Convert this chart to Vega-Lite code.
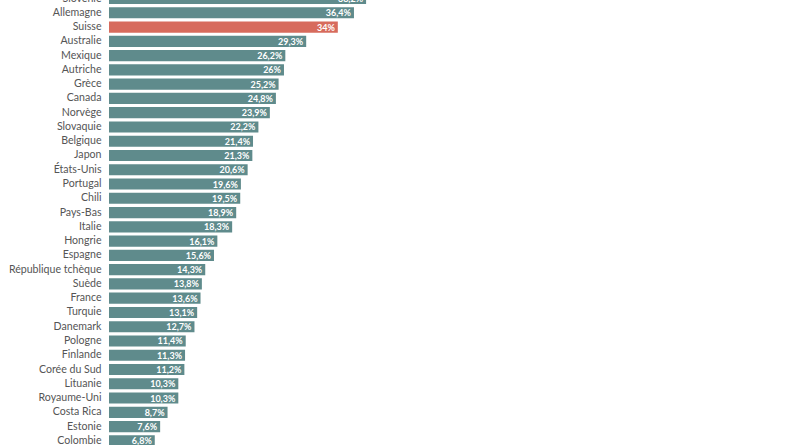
{
  "$schema": "https://vega.github.io/schema/vega-lite/v6.json",
  "autosize": "none",
  "width": 673,
  "height": 445,
  "padding": {"left": 109, "top": 0, "right": 18, "bottom": 0},
  "background": "white",
  "config": {"view": {"stroke": null}},
  "data": {"values": [
    {"pays": "Slovénie", "v": 38.2},
    {"pays": "Allemagne", "v": 36.4},
    {"pays": "Suisse", "v": 34},
    {"pays": "Australie", "v": 29.3},
    {"pays": "Mexique", "v": 26.2},
    {"pays": "Autriche", "v": 26},
    {"pays": "Grèce", "v": 25.2},
    {"pays": "Canada", "v": 24.8},
    {"pays": "Norvège", "v": 23.9},
    {"pays": "Slovaquie", "v": 22.2},
    {"pays": "Belgique", "v": 21.4},
    {"pays": "Japon", "v": 21.3},
    {"pays": "États-Unis", "v": 20.6},
    {"pays": "Portugal", "v": 19.6},
    {"pays": "Chili", "v": 19.5},
    {"pays": "Pays-Bas", "v": 18.9},
    {"pays": "Italie", "v": 18.3},
    {"pays": "Hongrie", "v": 16.1},
    {"pays": "Espagne", "v": 15.6},
    {"pays": "République tchèque", "v": 14.3},
    {"pays": "Suède", "v": 13.8},
    {"pays": "France", "v": 13.6},
    {"pays": "Turquie", "v": 13.1},
    {"pays": "Danemark", "v": 12.7},
    {"pays": "Pologne", "v": 11.4},
    {"pays": "Finlande", "v": 11.3},
    {"pays": "Corée du Sud", "v": 11.2},
    {"pays": "Lituanie", "v": 10.3},
    {"pays": "Royaume-Uni", "v": 10.3},
    {"pays": "Costa Rica", "v": 8.7},
    {"pays": "Estonie", "v": 7.6},
    {"pays": "Colombie", "v": 6.8}
  ]},
  "transform": [
    {"calculate": "replace(format(datum.v, '.1~f'), '.', ',') + '%'", "as": "label"}
  ],
  "encoding": {
    "y": {
      "field": "pays",
      "type": "nominal",
      "sort": null,
      "scale": {"range": [-8.6, 448.0], "paddingInner": 0.22, "paddingOuter": 0.11},
      "axis": {
        "title": null,
        "ticks": false,
        "domain": false,
        "labelPadding": 8,
        "labelFont": "Lato",
        "labelFontSize": 10.6,
        "labelColor": "#555555"
      }
    },
    "x": {
      "field": "v",
      "type": "quantitative",
      "scale": {"domain": [0, 100], "nice": false},
      "axis": null
    }
  },
  "layer": [
    {
      "mark": {"type": "bar"},
      "encoding": {
        "color": {
          "condition": {"test": "datum.pays === 'Suisse'", "value": "#d76b5d"},
          "value": "#5f8b8c"
        }
      }
    },
    {
      "mark": {"type": "text", "align": "right", "baseline": "middle", "dx": -3, "dy": 0.5, "font": "Lato", "fontSize": 9, "fontWeight": "bold", "color": "white"},
      "encoding": {"text": {"field": "label"}}
    }
  ]
}
